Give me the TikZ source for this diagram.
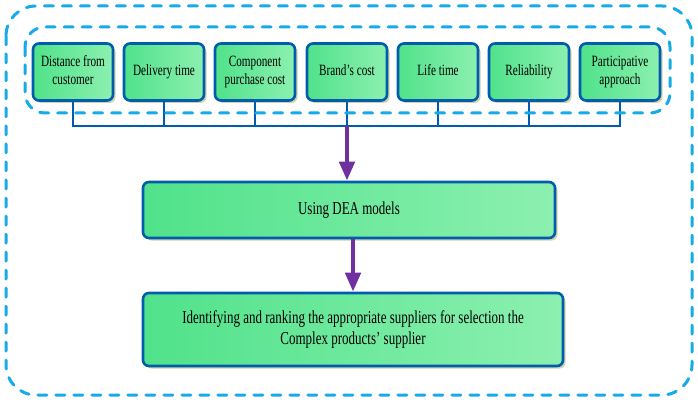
\documentclass[tikz,border=0pt]{standalone}
\usepackage{fontspec}
\setmainfont{Liberation Serif}
\usetikzlibrary{arrows.meta,shadows}
\definecolor{dashblue}{RGB}{22,170,230}
\definecolor{edgeblue}{RGB}{0,92,172}
\definecolor{boxgreenA}{RGB}{80,226,138}
\definecolor{boxgreenB}{RGB}{140,240,176}
\definecolor{arrowpurple}{RGB}{112,48,160}
\definecolor{shadowolive}{RGB}{190,190,140}
\newcommand{\stretchtext}[1]{\scalebox{1}[1.4]{\begin{tabular}{@{}c@{}}#1\end{tabular}}}
\tikzset{
  greenbox/.style={draw=edgeblue, line width=2.6pt, rounded corners=6pt,
    left color=boxgreenA, right color=boxgreenB,
    drop shadow={shadow xshift=2.5pt, shadow yshift=-2.5pt, fill=shadowolive, opacity=0.7},
    inner sep=0pt, align=center, text=black},
  smallbox/.style={greenbox, minimum width=80pt, minimum height=57pt, font=\fontsize{11.2}{13}\selectfont},
  bigbox/.style={greenbox, font=\fontsize{13}{15.4}\selectfont},
  conn/.style={draw=edgeblue, line width=2.2pt},
  flow/.style={draw=arrowpurple, line width=4.5pt, -{Triangle[length=19pt,width=15pt]}},
  dashframe/.style={draw=dashblue, line width=3pt, line cap=round, dash pattern=on 9pt off 9pt}
}
\begin{document}
\begin{tikzpicture}[x=1pt,y=-1pt]
\useasboundingbox (0,0) rectangle (698,414);
% dashed frames
\draw[dashframe, rounded corners=30pt] (6,6) rectangle (692,395);
% top boxes
\node[smallbox] (b1) at (73,72)  {\stretchtext{Distance from\\customer}};
\node[smallbox] (b2) at (164,72) {\stretchtext{Delivery time}};
\node[smallbox] (b3) at (255,72) {\stretchtext{Component\\purchase cost}};
\node[smallbox] (b4) at (347,72) {\stretchtext{Brand’s cost}};
\node[smallbox] (b5) at (438,72) {\stretchtext{Life time}};
\node[smallbox] (b6) at (529,72) {\stretchtext{Reliability}};
\node[smallbox] (b7) at (620,72) {\stretchtext{Participative\\approach}};
% lower boxes
\node[bigbox, minimum width=412pt, minimum height=56pt] (dea) at (349,210) {\stretchtext{Using DEA models}};
\node[bigbox, minimum width=420pt, minimum height=73pt] (fin) at (353,329.5)
  {\stretchtext{Identifying and ranking the appropriate suppliers for selection the\\Complex products’ supplier}};
% bus
\coordinate (bus) at (0,126);
\draw[conn] (b1.south) -- (b1.south |- bus) -- (b7.south |- bus) -- (b7.south);
\foreach \b in {b2,b3,b4,b5,b6} \draw[conn] (\b.south) -- (\b.south |- bus);
\draw[dashframe, rounded corners=20pt] (25,27) rectangle (670,113);
% arrows
\draw[flow] (b4.south |- bus) -- (b4.south |- dea.north);
\draw[flow] (dea.south -| fin.north) -- (fin.north);
\end{tikzpicture}
\end{document}
